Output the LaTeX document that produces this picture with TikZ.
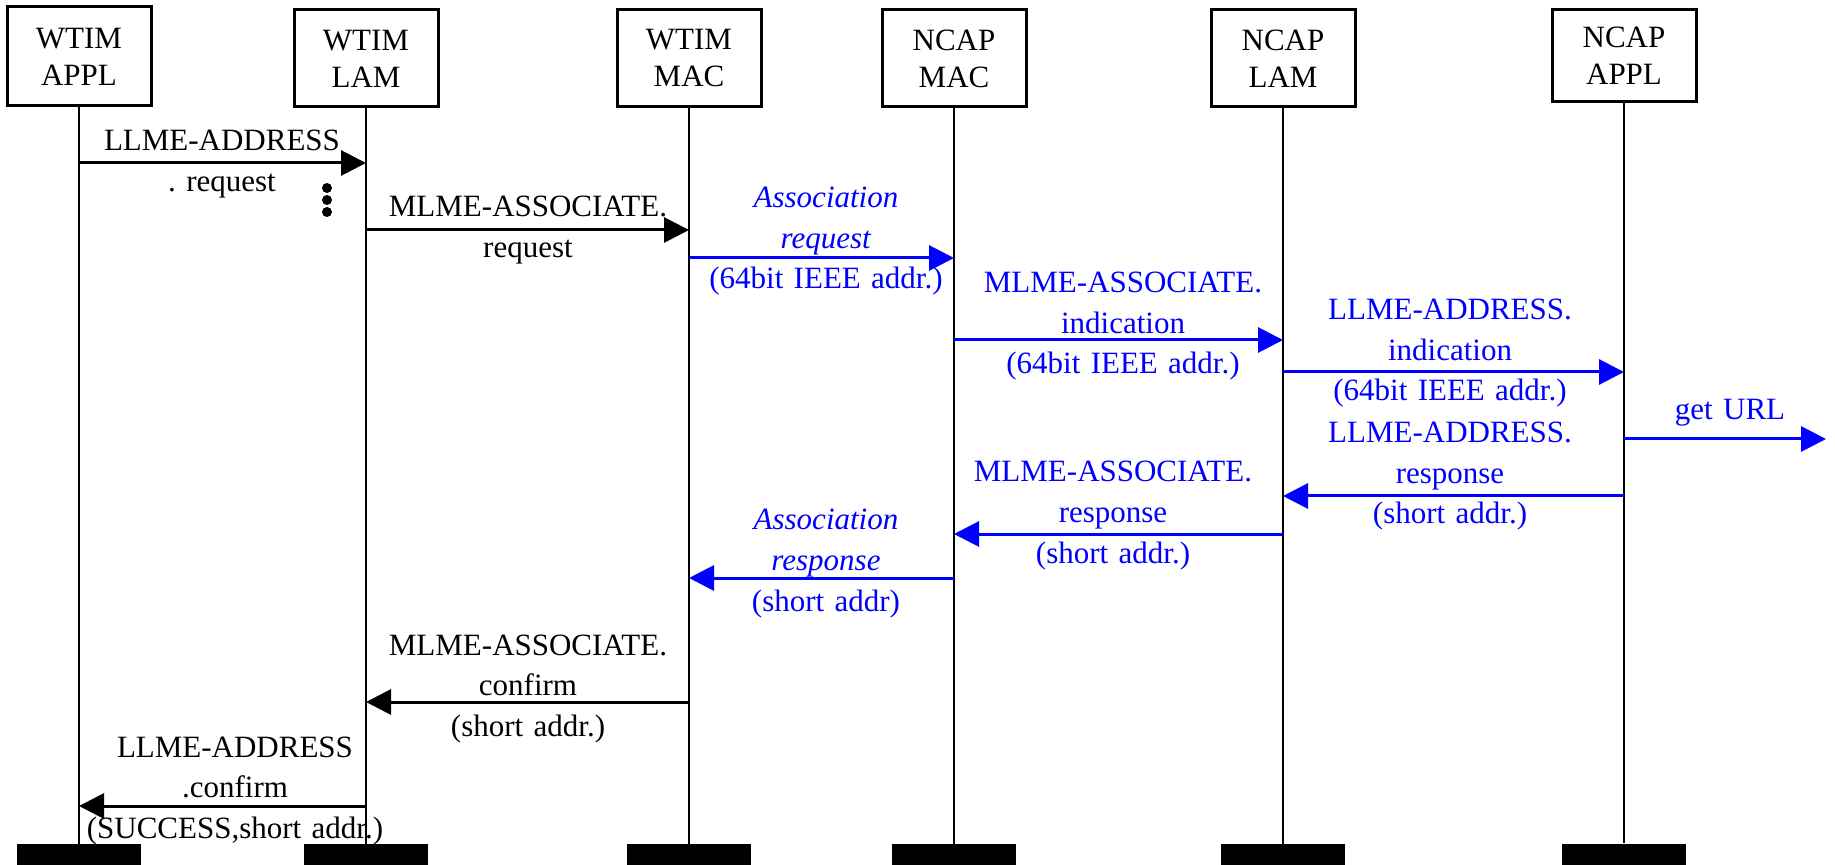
\documentclass[tikz,border=0pt]{standalone}
\usepackage{fontspec}
\setmainfont{Liberation Serif}
\usetikzlibrary{arrows.meta}
\frenchspacing

\begin{document}
\begin{tikzpicture}[x=0.5pt,y=-0.5pt,
  layer/.style={draw,line width=1.5pt,minimum width=72pt,minimum height=48.5pt,
    align=center,inner sep=0pt,font={\fontsize{15.5}{18.5}\selectfont}},
  foot/.style={fill=black,minimum width=62pt,minimum height=10.5pt,inner sep=0pt},
  life/.style={line width=1.2pt},
  msg/.style={line width=1.5pt,-{Triangle[length=12.5pt,width=12.5pt]}},
  lbl/.style={text width=160pt,align=center,anchor=base,inner sep=0pt,
    font={\fontsize{15.5}{20.25}\selectfont}}]
\useasboundingbox (0,0) rectangle (1835,865);
%
\node[layer,minimum height=49.5pt] (wappl) at (79,56.5) {WTIM\\APPL};
\node[layer] (wlam) at (366,58.5) {WTIM\\LAM};
\node[layer] (wmac) at (689,58.5) {WTIM\\MAC};
\node[layer] (nmac) at (954,58.5) {NCAP\\MAC};
\node[layer] (nlam) at (1283,58.5) {NCAP\\LAM};
\node[layer,minimum height=46pt] (nappl) at (1624,56) {NCAP\\APPL};
%
\node[foot] (fwappl) at (79,854.5) {};
\node[foot] (fwlam) at (366,854.5) {};
\node[foot] (fwmac) at (689,854.5) {};
\node[foot] (fnmac) at (954,854.5) {};
\node[foot] (fnlam) at (1283,854.5) {};
\node[foot] (fnappl) at (1624,854) {};
%
\draw[life] (wappl) -- (fwappl);
\draw[life] (wlam) -- (fwlam);
\draw[life] (wmac) -- (fwmac);
\draw[life] (nmac) -- (fnmac);
\draw[life] (nlam) -- (fnlam);
\draw[life] (nappl) -- (fnappl);
%
\coordinate (r1) at (0,163);
\coordinate (r2) at (0,230);
\coordinate (r3) at (0,258);
\coordinate (r4) at (0,340);
\coordinate (r5) at (0,372);
\coordinate (url) at (1826,439);
\coordinate (r7) at (0,496);
\coordinate (r8) at (0,534);
\coordinate (r9) at (0,578);
\coordinate (r10) at (0,702);
\coordinate (r11) at (0,806);
%
\draw[msg] (wappl |- r1) -- (wlam |- r1);
\draw[msg] (wlam |- r2) -- (wmac |- r2);
\draw[msg,blue] (wmac |- r3) -- (nmac |- r3);
\draw[msg,blue] (nmac |- r4) -- (nlam |- r4);
\draw[msg,blue] (nlam |- r5) -- (nappl |- r5);
\draw[msg,blue] (nappl |- url) -- (url);
\draw[msg,blue] (nappl |- r7) -- (nlam |- r7);
\draw[msg,blue] (nlam |- r8) -- (nmac |- r8);
\draw[msg,blue] (nmac |- r9) -- (wmac |- r9);
\draw[msg] (wmac |- r10) -- (wlam |- r10);
\draw[msg] (wlam |- r11) -- (wappl |- r11);
%
\node[lbl] (l1) at (222,151) {LLME-ADDRESS\\. request};
\foreach \d in {188,200,212}
  \fill (327,\d) circle (2.5pt);
\node[lbl] (l2) at (528,217) {MLME-ASSOCIATE.\\request};
\node[lbl,blue] (l3) at (826,208) {\textit{Association}\\\textit{request}\\(64bit IEEE addr.)};
\node[lbl,blue] (l4) at (1123,293) {MLME-ASSOCIATE.\\indication\\(64bit IEEE addr.)};
\node[lbl,blue] (l5) at (1450,320) {LLME-ADDRESS.\\indication\\(64bit IEEE addr.)};
\node[lbl,blue] (l6) at (1730,420) {get URL};
\node[lbl,blue] (l7) at (1450,443) {LLME-ADDRESS.\\response\\(short addr.)};
\node[lbl,blue] (l8) at (1113,482) {MLME-ASSOCIATE.\\response\\(short addr.)};
\node[lbl,blue] (l9) at (826,530) {\textit{Association}\\\textit{response}\\(short addr)};
\node[lbl] (l10) at (528,655) {MLME-ASSOCIATE.\\confirm\\(short addr.)};
\node[lbl] (l11) at (235,757) {LLME-ADDRESS\\.confirm\\(SUCCESS,short addr.)};
\end{tikzpicture}
\end{document}
